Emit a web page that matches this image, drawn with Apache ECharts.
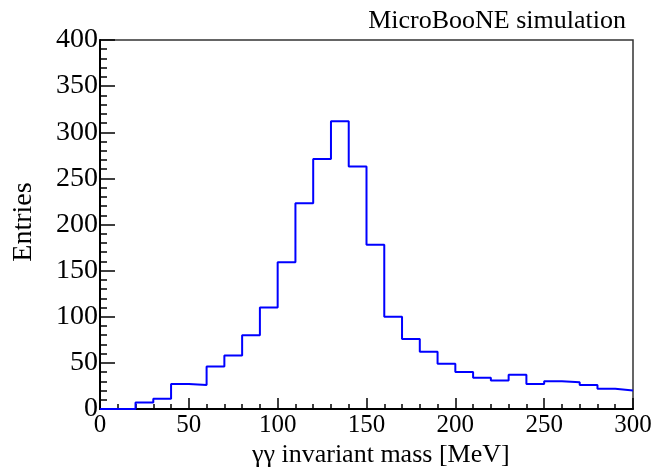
<!DOCTYPE html>
<html>
<head>
<meta charset="utf-8">
<script src="https://cdn.jsdelivr.net/npm/echarts@6/dist/echarts.min.js"></script>
<style>html,body{margin:0;padding:0;background:#fff;}#c{width:656px;height:470px;}</style>
</head>
<body>
<div id="c"></div>
<script>
// Bin lower edges (MeV), bin width 10
var binEdges = [0,10,20,30,40,50,60,70,80,90,100,110,120,130,140,150,160,170,180,190,200,210,220,230,240,250,260,270,280,290];
var entries = [0,0,7,11,27,26,46,58,80,110,159,223,271,312,263,178,100,76,62,49,40,34,31,37,27,30,29,26,22,20];
var xMax = 300;
var yTicks = [0,50,100,150,200,250,300,350,400];
var xTicks = [0,50,100,150,200,250,300];

var data = binEdges.map(function(e,i){return [e, entries[i]];});
data.push([xMax, entries[entries.length-1]]);

var font = 'Liberation Serif, Times New Roman, serif';
var chart = echarts.init(document.getElementById('c'));
chart.setOption({
  animation: false,
  backgroundColor: '#fff',
  grid: {left: 100, top: 40, width: 533, height: 369, show: true, borderColor: '#333', borderWidth: 1.5, backgroundColor: 'transparent'},
  xAxis: {
    type: 'value', min: xTicks[0], max: xTicks[xTicks.length-1], interval: 50,
    axisLine: {lineStyle: {color: '#000', width: 2}},
    axisTick: {inside: true, length: 11, lineStyle: {color: '#000', width: 1.5}},
    minorTick: {show: true, splitNumber: 5, length: 5, lineStyle: {color: '#000', width: 1.5}},
    splitLine: {show: false},
    axisLabel: {fontFamily: font, fontSize: 25, color: '#000', margin: 4}
  },
  yAxis: {
    type: 'value', min: yTicks[0], max: yTicks[yTicks.length-1], interval: 50,
    axisLine: {lineStyle: {color: '#000', width: 2}},
    axisTick: {inside: true, length: 15, lineStyle: {color: '#000', width: 1.5}},
    minorTick: {show: true, splitNumber: 5, length: 7, lineStyle: {color: '#000', width: 1.5}},
    splitLine: {show: false},
    axisLabel: {fontFamily: font, fontSize: 28, color: '#000', margin: 2}
  },
  graphic: [
    {type: 'text', x: 626, y: 21, style: {text: 'MicroBooNE simulation', font: '26px ' + font, fill: '#000', align: 'right', verticalAlign: 'middle'}},
    {type: 'text', x: 252, y: 455, style: {text: 'γγ invariant mass [MeV]', font: '26px ' + font, fill: '#000', align: 'left', verticalAlign: 'middle'}},
    {type: 'text', x: 24, y: 222, rotation: Math.PI/2, style: {text: 'Entries', font: '28px ' + font, fill: '#000', align: 'center', verticalAlign: 'middle'}}
  ],
  series: [{
    type: 'line', step: 'end', data: data, symbol: 'none',
    lineStyle: {color: '#0000ff', width: 2}
  }]
});
</script>
</body>
</html>
